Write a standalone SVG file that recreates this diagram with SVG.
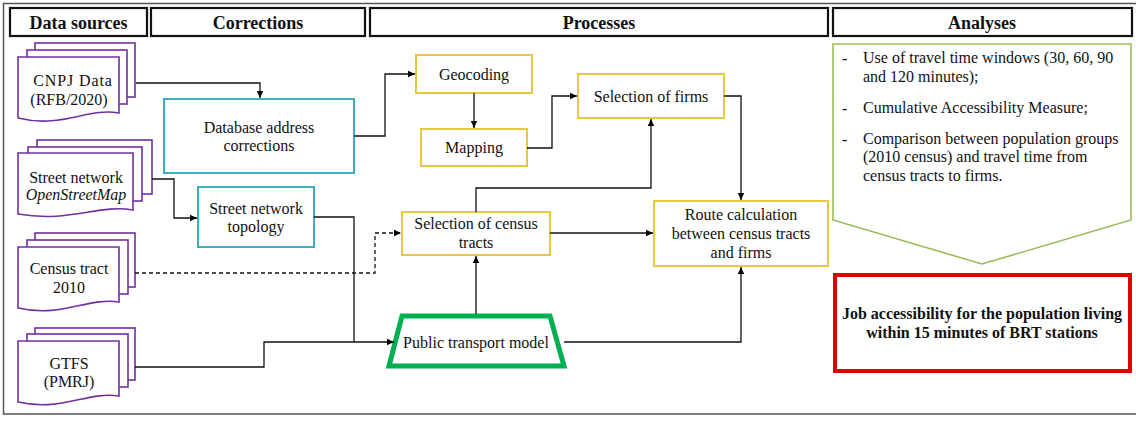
<svg xmlns="http://www.w3.org/2000/svg" width="1136" height="421" viewBox="0 0 1136 421" font-family="'Liberation Serif', serif">
<defs>
<marker id="arr" markerWidth="8" markerHeight="8" refX="7" refY="4" orient="auto" markerUnits="userSpaceOnUse">
<path d="M0,0.8 L7,4 L0,7.2 Z" fill="#000"/>
</marker>
<style>
text{font-family:'Liberation Serif',serif;font-size:16px;fill:#111;text-anchor:middle}
.hd{font-weight:bold;font-size:18px}
.hbox{fill:#fff;stroke:#111;stroke-width:2.2}
.doc{fill:#fff;stroke:#7030A0;stroke-width:1.6}
.cy{fill:#fff;stroke:#3DB1C1;stroke-width:2}
.ye{fill:#fff;stroke:#E6C843;stroke-width:2}
.c{fill:none;stroke:#111;stroke-width:1.3}
.l{text-anchor:start}
</style>
</defs>
<rect width="1136" height="421" fill="#fff"/>
<path d="M1136,3.5 H3.5 V414 H1136" fill="none" stroke="#555" stroke-width="1.5"/>

<g id="header-data-sources"><rect class="hbox" x="10" y="8" width="137" height="28"/><text class="hd" x="78.5" y="28.5">Data sources</text></g>
<g id="header-corrections"><rect class="hbox" x="151" y="8" width="214" height="28"/><text class="hd" x="258" y="28.5">Corrections</text></g>
<g id="header-processes"><rect class="hbox" x="370" y="8" width="458" height="28"/><text class="hd" x="599" y="28.5">Processes</text></g>
<g id="header-analyses"><rect class="hbox" x="833" y="8" width="299" height="28"/><text class="hd" x="982" y="28.5">Analyses</text></g>

<g id="cnpj">
<rect class="doc" x="35" y="43" width="100" height="54"/>
<rect class="doc" x="27" y="50" width="100" height="54"/>
<path class="doc" d="M18,57 H119 V113 C88,107 62,129 18,118 Z"/>
<text x="73" y="86" letter-spacing="0.9">CNPJ Data</text><text x="69" y="105">(RFB/2020)</text>
</g>
<g id="street-network">
<rect class="doc" x="37" y="140" width="115" height="54"/>
<rect class="doc" x="28" y="147" width="114" height="54"/>
<path class="doc" d="M18,153 H133 V210 C98,204 70,223 18,214 Z"/>
<text x="76" y="183">Street network</text><text x="76" y="200" font-style="italic">OpenStreetMap</text>
</g>
<g id="census-tract">
<rect class="doc" x="35" y="233" width="100" height="54"/>
<rect class="doc" x="27" y="240" width="101" height="54"/>
<path class="doc" d="M18,247 H119 V302 C88,297 62,318 18,308 Z"/>
<text x="69" y="274">Census tract</text><text x="69" y="293">2010</text>
</g>
<g id="gtfs">
<rect class="doc" x="35" y="328" width="100" height="52"/>
<rect class="doc" x="27" y="334" width="101" height="53"/>
<path class="doc" d="M18,341 H119 V396 C88,391 62,412 18,402 Z"/>
<text x="69" y="369">GTFS</text><text x="69" y="387">(PMRJ)</text>
</g>

<g id="database-corrections"><rect class="cy" x="164" y="99" width="190" height="74"/><text x="259" y="133">Database address</text><text x="259" y="151">corrections</text></g>
<g id="street-topology"><rect class="cy" x="198" y="187" width="116" height="60"/><text x="256" y="214">Street network</text><text x="256" y="232">topology</text></g>

<g id="geocoding"><rect class="ye" x="416" y="55" width="116" height="38"/><text x="474" y="80">Geocoding</text></g>
<g id="mapping"><rect class="ye" x="421" y="129" width="106" height="37"/><text x="474" y="153">Mapping</text></g>
<g id="selection-firms"><rect class="ye" x="578" y="74" width="146" height="44"/><text x="651" y="102">Selection of firms</text></g>
<g id="selection-census"><rect class="ye" x="402" y="212" width="148" height="43"/><text x="476" y="229">Selection of census</text><text x="476" y="248">tracts</text></g>
<g id="route-calculation"><rect class="ye" x="654" y="201" width="174" height="65"/><text x="741" y="220">Route calculation</text><text x="741" y="239">between census tracts</text><text x="741" y="258">and firms</text></g>
<g id="public-transport"><path d="M402,316 H550 L564,366 H389 Z" fill="#fff" stroke="#00B050" stroke-width="5" stroke-linejoin="miter"/><text x="476" y="348">Public transport model</text></g>

<g id="analyses">
<path d="M833,44 H1131 V220 L982,264 L833,220 Z" fill="#fff" stroke="#9BBB59" stroke-width="1.6"/>
<text class="l" x="842" y="64">-</text><text class="l" x="863" y="63">Use of travel time windows (30, 60, 90</text>
<text class="l" x="863" y="82">and 120 minutes);</text>
<text class="l" x="842" y="114">-</text><text class="l" x="863" y="113">Cumulative Accessibility Measure;</text>
<text class="l" x="842" y="145">-</text><text class="l" x="863" y="144">Comparison between population groups</text>
<text class="l" x="863" y="162">(2010 census) and travel time from</text>
<text class="l" x="863" y="181">census tracts to firms.</text>
</g>
<g id="result"><rect x="835" y="275" width="295" height="96" fill="#fff" stroke="#E50000" stroke-width="4"/><text x="982" y="319" font-weight="bold">Job accessibility for the population living</text><text x="982" y="338" font-weight="bold">within 15 minutes of BRT stations</text></g>

<g id="connectors">
<path class="c" d="M136,83 H260 V98" marker-end="url(#arr)"/>
<path class="c" d="M354,136 H385 V74 H415" marker-end="url(#arr)"/>
<path class="c" d="M474,93 V128" marker-end="url(#arr)"/>
<path class="c" d="M527,148 H552 V96 H577" marker-end="url(#arr)"/>
<path class="c" d="M724,96 H741 V200" marker-end="url(#arr)"/>
<path class="c" d="M476,212 V188 H651 V119" marker-end="url(#arr)"/>
<path class="c" d="M550,233 H653" marker-end="url(#arr)"/>
<path class="c" d="M476,314 V256" marker-end="url(#arr)"/>
<path class="c" d="M564,342 H741 V267" marker-end="url(#arr)"/>
<path class="c" d="M152,179 H174 V218 H197" marker-end="url(#arr)"/>
<path class="c" d="M314,217 H354 V342"/>
<path class="c" d="M135,367 H264 V342 H394" marker-end="url(#arr)"/>
<path class="c" d="M135,273 H375 V233 H401" stroke-dasharray="4,3" marker-end="url(#arr)"/>
</g>
</svg>
